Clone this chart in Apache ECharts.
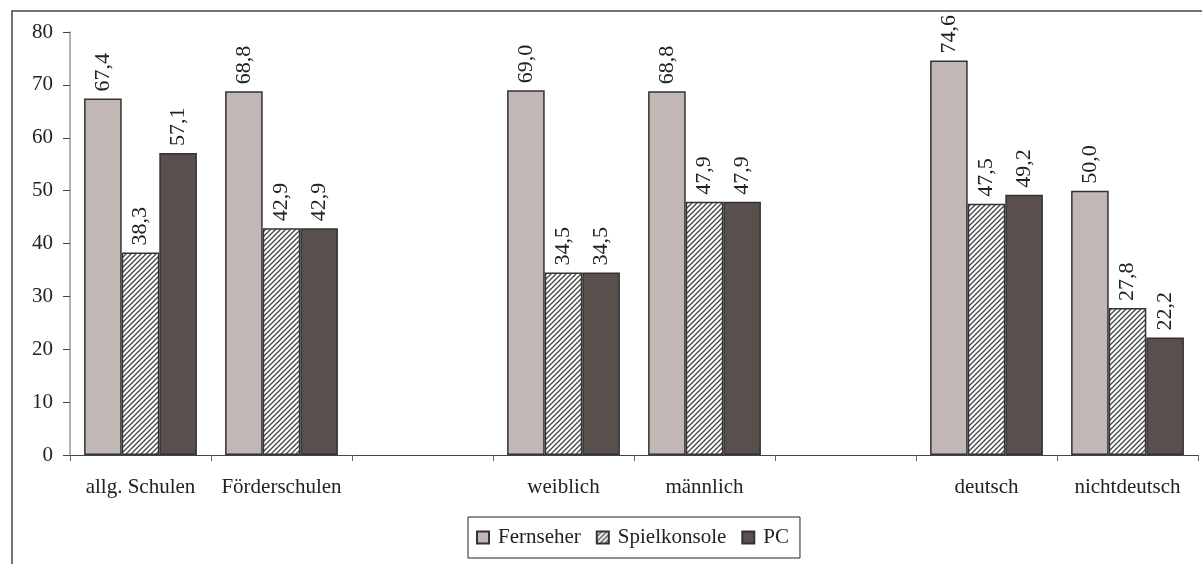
<!DOCTYPE html>
<html>
<head>
<meta charset="utf-8">
<script src="https://cdn.jsdelivr.net/npm/echarts@6/dist/echarts.min.js"></script>
<style>
html,body{margin:0;padding:0;background:#fff;}
#chart{width:1202px;height:564px;}
</style>
</head>
<body>
<div id="chart"></div>
<script>
const categories = ['allg. Schulen', 'Förderschulen', '', 'weiblich', 'männlich', '', 'deutsch', 'nichtdeutsch'];
const fernseher = [67.4, 68.8, null, 69.0, 68.8, null, 74.6, 50.0];
const spielkonsole = [38.3, 42.9, null, 34.5, 47.9, null, 47.5, 27.8];
const pc = [57.1, 42.9, null, 34.5, 47.9, null, 49.2, 22.2];
const yTicks = [0, 10, 20, 30, 40, 50, 60, 70, 80];

function hatch() {
  const c = document.createElement('canvas');
  c.width = 5; c.height = 5;
  const g = c.getContext('2d');
  g.fillStyle = '#ffffff';
  g.fillRect(0, 0, 5, 5);
  g.strokeStyle = '#444';
  g.lineWidth = 1.3;
  g.beginPath();
  g.moveTo(-1, 6); g.lineTo(6, -1);
  g.moveTo(-1, 1); g.lineTo(1, -1);
  g.moveTo(4, 6); g.lineTo(6, 4);
  g.stroke();
  return c;
}

const font = '"Liberation Serif", "DejaVu Serif", serif';
const chart = echarts.init(document.getElementById('chart'));
const label = {
  show: true, position: 'top', rotate: 90, align: 'left', verticalAlign: 'middle',
  distance: 7, fontFamily: font, fontSize: 22, color: '#222',
  formatter: p => p.value == null ? '' : p.value.toFixed(1).replace('.', ',')
};
const border = { borderColor: '#333', borderWidth: 1.5 };
chart.setOption({
  animation: false,
  textStyle: { fontFamily: font },
  graphic: [{
    type: 'rect', shape: { x: 12, y: 11, width: 1400, height: 800 },
    style: { fill: 'none', stroke: '#444', lineWidth: 1.5 }, z: -1
  }],
  grid: { left: 70, right: 4, top: 32, bottom: 109 },
  legend: {
    left: 468, top: 517, padding: [10, 11, 10, 8],
    borderColor: '#222', borderWidth: 1, itemGap: 15,
    itemWidth: 12, itemHeight: 12, icon: 'rect',
    textStyle: { fontFamily: font, fontSize: 21, color: '#222', padding: [0, 0, 0, 4] },
    data: ['Fernseher', 'Spielkonsole', 'PC']
  },
  xAxis: {
    type: 'category', data: categories,
    axisLine: { lineStyle: { color: '#444', width: 1 } },
    axisTick: { show: true, length: 6, lineStyle: { color: '#666' } },
    axisLabel: { fontFamily: font, fontSize: 21, color: '#222', margin: 22, interval: 0 }
  },
  yAxis: {
    type: 'value', min: 0, max: 80, interval: 10,
    axisLine: { show: true, lineStyle: { color: '#999', width: 1.5 } },
    axisTick: { show: true, inside: false, length: 7, lineStyle: { color: '#444' } },
    splitLine: { show: false },
    axisLabel: { fontFamily: font, fontSize: 21, color: '#222', margin: 17,
      formatter: v => yTicks.includes(v) ? String(v) : '' }
  },
  series: [
    { name: 'Fernseher', type: 'bar', data: fernseher, barGap: '0%', barCategoryGap: '20%',
      itemStyle: Object.assign({ color: '#c1b7b4' }, border), label: label },
    { name: 'Spielkonsole', type: 'bar', data: spielkonsole,
      itemStyle: Object.assign({ color: { image: hatch(), repeat: 'repeat' } }, border), label: label },
    { name: 'PC', type: 'bar', data: pc,
      itemStyle: Object.assign({ color: '#594f4c' }, border), label: label }
  ]
});
</script>
</body>
</html>
